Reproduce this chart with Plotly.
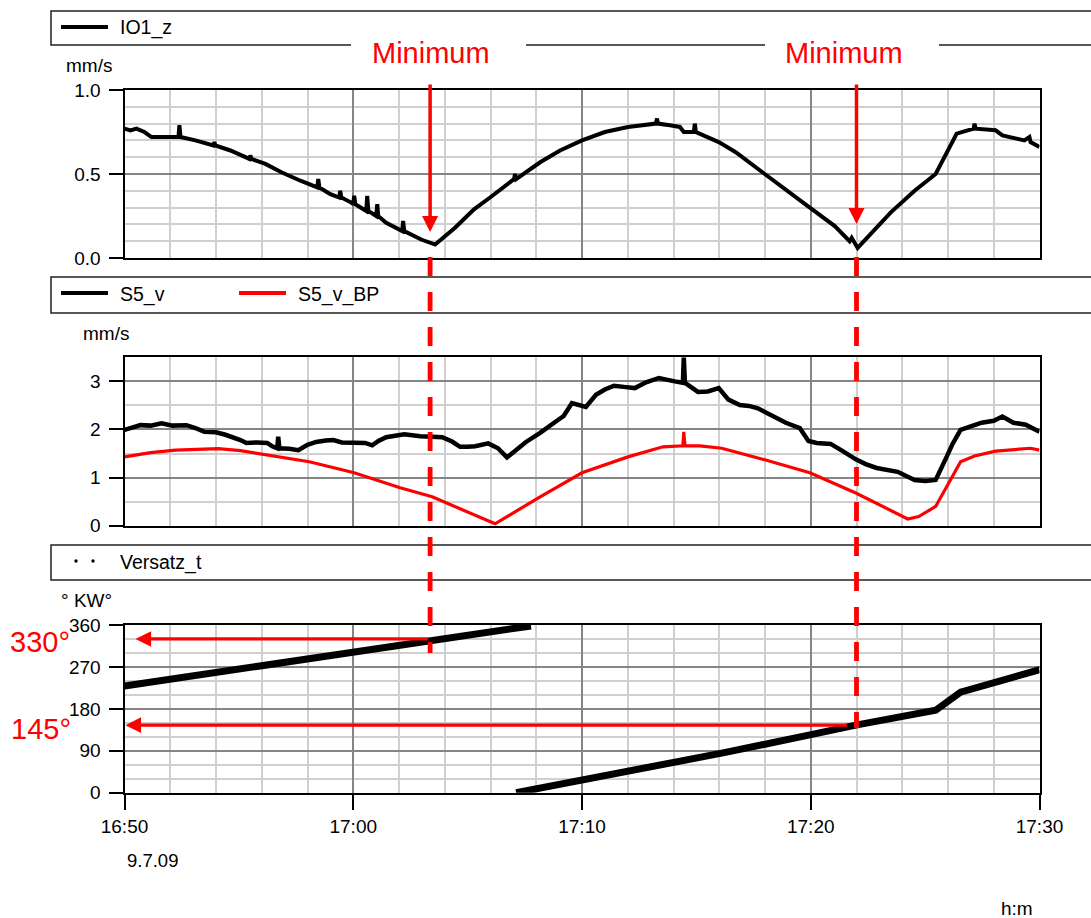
import plotly.graph_objects as go
import pandas as pd

W, H = 1091, 918
FONT = "Arial, Liberation Sans, sans-serif"
BASE = pd.Timestamp("2009-07-09 16:50:00")
RED = "#ff0000"
MAJ = "#858585"
MINC = "#d0d0d0"

# ---------------- data (time in minutes after 16:50) ----------------
io1_min = [0.00, 0.26, 0.52, 0.87, 1.18, 1.79, 2.36, 2.40, 2.45, 3.10, 3.76, 3.89, 3.93, 3.97,
           4.63, 5.33, 5.46, 5.50, 5.55, 6.16, 6.86, 7.69, 8.43, 8.47, 8.52, 9.00, 9.39, 9.43,
           9.48, 9.91, 10.00, 10.04, 10.09, 10.57, 10.61, 10.66, 11.00, 11.05, 11.09, 11.44,
           12.14, 12.18, 12.23, 12.97, 13.58, 14.45, 15.28, 15.98, 16.81, 17.03, 17.07, 17.12,
           18.17, 19.04, 20.00, 21.00, 22.01, 22.75, 23.23, 23.28, 23.32, 23.84, 24.28, 24.45,
           24.89, 24.93, 24.98, 25.98, 26.72, 27.99, 29.21, 29.96, 31.05, 31.70, 31.79, 32.05,
           33.49, 34.54, 35.46, 36.38, 36.86, 37.12, 37.16, 37.21, 38.08, 38.38, 39.34, 39.56,
           39.61, 40.00]
io1_val = [0.77, 0.76, 0.77, 0.75, 0.72, 0.72, 0.72, 0.79, 0.72, 0.70, 0.67, 0.67, 0.69, 0.67,
           0.64, 0.60, 0.59, 0.61, 0.59, 0.56, 0.51, 0.46, 0.42, 0.47, 0.42, 0.38, 0.36, 0.40,
           0.36, 0.33, 0.32, 0.37, 0.32, 0.28, 0.37, 0.28, 0.25, 0.32, 0.25, 0.21,
           0.16, 0.22, 0.16, 0.11, 0.08, 0.18, 0.29, 0.36, 0.45, 0.47, 0.50, 0.47,
           0.57, 0.64, 0.70, 0.75, 0.78, 0.79, 0.80, 0.83, 0.80, 0.79, 0.78, 0.75,
           0.75, 0.80, 0.75, 0.69, 0.63, 0.50, 0.38, 0.30, 0.19, 0.10, 0.12, 0.06,
           0.27, 0.40, 0.50, 0.74, 0.76, 0.77, 0.80, 0.77, 0.76, 0.73, 0.70, 0.72,
           0.69, 0.66]

s5v_min = [0.00, 0.31, 0.70, 1.14, 1.62, 2.10, 2.71, 3.10, 3.49, 4.00, 4.41, 5.07, 5.33, 5.80,
           6.24, 6.46, 6.68, 6.72, 6.77, 7.20, 7.60, 8.00, 8.38, 8.80, 9.13, 9.50, 9.91, 10.52,
           10.83, 11.10, 11.44, 12.23, 12.93, 13.40, 13.89, 14.32, 14.67, 15.00, 15.33, 15.90,
           16.33, 16.72, 17.10, 17.55, 18.17, 18.50, 18.78, 19.20, 19.56, 20.17, 20.61, 21.00,
           21.40, 21.92, 22.31, 22.80, 23.36, 24.06, 24.41, 24.45, 24.50, 25.07, 25.50, 25.98,
           26.40, 26.90, 27.30, 27.69, 28.30, 28.91, 29.52, 29.90, 30.26, 30.87, 31.40, 31.97,
           32.40, 32.88, 33.80, 34.54, 35.00, 35.46, 35.94, 36.20, 36.55, 37.00, 37.47, 38.00,
           38.38, 38.86, 39.40, 40.00]
s5v_val = [1.99, 2.03, 2.09, 2.08, 2.13, 2.08, 2.09, 2.03, 1.95, 1.94, 1.89, 1.78, 1.72, 1.73,
           1.72, 1.65, 1.61, 1.85, 1.61, 1.60, 1.57, 1.68, 1.74, 1.77, 1.78, 1.73, 1.72, 1.72,
           1.67, 1.76, 1.84, 1.90, 1.86, 1.84, 1.84, 1.75, 1.64, 1.64, 1.65, 1.71,
           1.61, 1.42, 1.58, 1.74, 1.93, 2.03, 2.14, 2.28, 2.55, 2.47, 2.72, 2.83,
           2.91, 2.88, 2.86, 2.98, 3.07, 3.00, 2.97, 3.50, 2.97, 2.78, 2.79, 2.86,
           2.62, 2.51, 2.49, 2.44, 2.28, 2.14, 2.03, 1.76, 1.72, 1.70, 1.55, 1.38,
           1.28, 1.20, 1.12, 0.95, 0.93, 0.95, 1.43, 1.70, 1.99, 2.06, 2.14, 2.18,
           2.27, 2.14, 2.10, 1.95]

bp_min = [0.00, 1.14, 2.23, 4.10, 5.07, 6.24, 8.08, 10.04, 12.05, 13.45, 14.80, 16.20, 18.17,
          20.00, 22.01, 23.54, 24.41, 24.45, 24.50, 25.15, 26.11, 27.99, 29.96, 31.97, 34.24,
          34.72, 35.46, 36.55, 37.16, 38.08, 39.61, 40.00]
bp_val = [1.43, 1.52, 1.57, 1.60, 1.56, 1.47, 1.33, 1.10, 0.79, 0.60, 0.33, 0.04, 0.60,
          1.10, 1.43, 1.64, 1.66, 1.95, 1.66, 1.66, 1.61, 1.37, 1.10, 0.68, 0.14,
          0.19, 0.40, 1.33, 1.45, 1.55, 1.61, 1.57]

vers1_min = [0.00, 10.04, 13.36, 17.77]
vers1_val = [229, 303, 327, 358]
vers2_min = [17.12, 18.17, 20.00, 22.01, 26.11, 29.96, 31.97, 35.46, 36.55, 40.00]
vers2_val = [0, 10, 27, 44, 85, 124, 145, 177, 216, 264]

min_times = [13.36, 32.0]        # the two minima of IO1_z
angle_vals = [330, 145]          # read-off angles
angle_labels = ["330°", "145°"]
arrow_tip_min = [0.48, 0.04]


def t(m):
    return [BASE + pd.Timedelta(minutes=v) for v in m]


def px(x):
    return x / W


def py(y):
    return 1 - y / H


fig = go.Figure()
fig.add_trace(go.Scatter(x=t(io1_min), y=io1_val, mode="lines", xaxis="x", yaxis="y",
                         line=dict(color="black", width=4), name="IO1_z", showlegend=False))
fig.add_trace(go.Scatter(x=t(bp_min), y=bp_val, mode="lines", xaxis="x2", yaxis="y2",
                         line=dict(color=RED, width=3.2), name="S5_v_BP", showlegend=False))
fig.add_trace(go.Scatter(x=t(s5v_min), y=s5v_val, mode="lines", xaxis="x2", yaxis="y2",
                         line=dict(color="black", width=4.5), name="S5_v", showlegend=False))
fig.add_trace(go.Scatter(x=t(vers1_min), y=vers1_val, mode="lines", xaxis="x3", yaxis="y3",
                         line=dict(color="black", width=7), name="Versatz_t", showlegend=False))
fig.add_trace(go.Scatter(x=t(vers2_min), y=vers2_val, mode="lines", xaxis="x3", yaxis="y3",
                         line=dict(color="black", width=7), name="Versatz_t", showlegend=False))

XDOM = [124.5 / W, 1039.5 / W]
xr = [BASE, BASE + pd.Timedelta(minutes=40)]


def xcfg(anchor, labels):
    return dict(domain=XDOM, anchor=anchor, type="date", range=xr,
                tick0=BASE, dtick=600000, tickformat="%H:%M",
                showgrid=True, gridcolor=MAJ, gridwidth=1.5,
                minor=dict(tick0=BASE, dtick=120000, showgrid=True, gridcolor=MINC, gridwidth=1.5, ticks=""),
                showline=True, linecolor="black", linewidth=2, mirror=True,
                ticks="outside" if labels else "", ticklen=15, tickwidth=1.5, tickcolor="black",
                showticklabels=labels, tickfont=dict(size=19, color="black", family=FONT),
                zeroline=False, fixedrange=True, automargin=False)


def ycfg(anchor, top, bottom, rng, dtick, mdtick, fmt=None):
    d = dict(domain=[py(bottom), py(top)], anchor=anchor, range=rng, dtick=dtick, tick0=0,
             showgrid=True, gridcolor=MAJ, gridwidth=1.5,
             minor=dict(tick0=0, dtick=mdtick, showgrid=True, gridcolor=MINC, gridwidth=1.5, ticks=""),
             showline=True, linecolor="black", linewidth=2, mirror=True,
             ticks="outside", ticklen=14, tickwidth=1.5, tickcolor="black",
             tickfont=dict(size=19, color="black", family=FONT), ticklabelstandoff=4,
             zeroline=False, fixedrange=True, automargin=False)
    if fmt:
        d["tickformat"] = fmt
    return d


fig.update_layout(
    width=W, height=H, margin=dict(l=0, r=0, t=0, b=0), autosize=False,
    paper_bgcolor="white", plot_bgcolor="white", showlegend=False,
    font=dict(family=FONT, color="black"),
    xaxis=xcfg("y", False), xaxis2=xcfg("y2", False), xaxis3=xcfg("y3", True),
    yaxis=ycfg("x", 90, 258, [0, 1], 0.5, 0.1, ".1f"),
    yaxis2=ycfg("x2", 357.3, 525.7, [0, 3.5], 1, 0.5),
    yaxis3=ycfg("x3", 625, 792.7, [0, 360], 90, 30),
)

shapes = []
BOXC = "#222222"
# legend boxes
for (y0, y1) in [(11, 45), (277, 313), (545, 580)]:
    shapes.append(dict(type="rect", xref="paper", yref="paper", x0=px(51), x1=px(1100),
                       y0=py(y1), y1=py(y0), line=dict(color=BOXC, width=1.5), fillcolor="rgba(0,0,0,0)"))
# legend samples
shapes.append(dict(type="line", xref="paper", yref="paper", x0=px(61), x1=px(108), y0=py(27), y1=py(27),
                   line=dict(color="black", width=4)))
shapes.append(dict(type="line", xref="paper", yref="paper", x0=px(61), x1=px(108), y0=py(293), y1=py(293),
                   line=dict(color="black", width=4)))
shapes.append(dict(type="line", xref="paper", yref="paper", x0=px(239), x1=px(286), y0=py(293), y1=py(293),
                   line=dict(color=RED, width=4)))
for cx in [76, 93]:
    shapes.append(dict(type="circle", xref="paper", yref="paper", x0=px(cx - 1.7), x1=px(cx + 1.7),
                       y0=py(561 + 1.7), y1=py(561 - 1.7), fillcolor="black", line=dict(width=0)))
# white gaps behind "Minimum" labels
for (a, b) in [(351, 526), (765, 939)]:
    shapes.append(dict(type="rect", xref="paper", yref="paper", x0=px(a), x1=px(b), y0=py(50), y1=py(40),
                       fillcolor="white", line=dict(width=0)))
# dashed red verticals at the minima
for m, yend in zip(min_times, [653, 728]):
    tm = BASE + pd.Timedelta(minutes=m)
    shapes.append(dict(type="line", xref="x", yref="paper", x0=tm, x1=tm, y0=py(257), y1=py(yend),
                       line=dict(color=RED, width=4.8, dash="19px,16px"), layer="above"))
fig.update_layout(shapes=shapes)

ann = []


def label(x, y, text, size=18, color="black", xanchor="left"):
    ann.append(dict(xref="paper", yref="paper", x=px(x), y=py(y), text=text, showarrow=False,
                    xanchor=xanchor, yanchor="middle", font=dict(size=size, color=color, family=FONT)))


label(118, 28, "IO1_z", 19.5)
label(118, 294, "S5_v", 19.5)
label(296, 294, "S5_v_BP", 19.5)
label(118, 562, "Versatz_t", 19.5)
label(88.5, 66, "mm/s", 19, xanchor="center")
label(106, 333, "mm/s", 19, xanchor="center")
label(86, 600, "° KW°", 19, xanchor="center")
label(152, 860, "9.7.09", 18.5, xanchor="center")
label(1017, 908, "h:m", 19, xanchor="center")
label(430.5, 53, "Minimum", 29, RED, "center")
label(844, 53, "Minimum", 29, RED, "center")
label(40, 642, angle_labels[0], 29, RED, "center")
label(41, 729, angle_labels[1], 29, RED, "center")

# vertical arrows pointing at minima
for m, tip in zip(min_times, [232, 224]):
    ann.append(dict(xref="x", yref="paper", x=BASE + pd.Timedelta(minutes=m), y=py(tip), text="",
                    showarrow=True, ax=0, ay=-(tip - 83), arrowhead=2, arrowsize=0.92, arrowwidth=3.5,
                    arrowcolor=RED, standoff=0))
# horizontal arrows to angle axis
for m, a, tip, tail in zip(arrow_tip_min, angle_vals, [135, 125], [429, 848]):
    ann.append(dict(xref="x3", yref="y3", x=BASE + pd.Timedelta(minutes=m), y=a, text="",
                    showarrow=True, ax=tail - tip, ay=0, arrowhead=2, arrowsize=0.95, arrowwidth=3.3,
                    arrowcolor=RED, standoff=0))
fig.update_layout(annotations=ann)

fig.write_html("out.html")
